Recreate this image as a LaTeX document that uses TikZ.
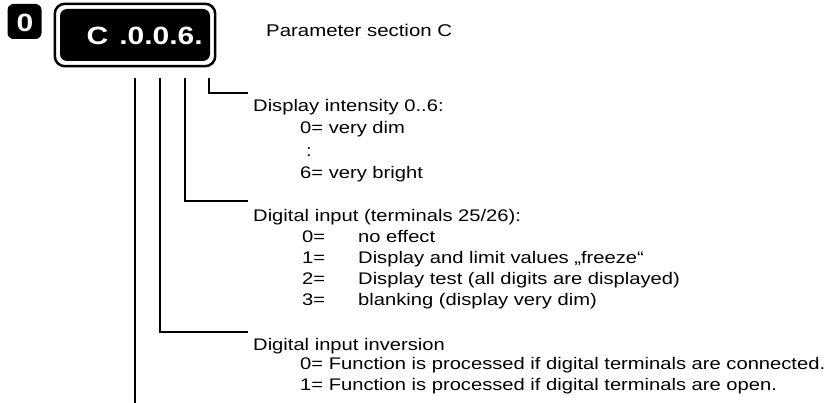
\documentclass[tikz,border=0pt]{standalone}
\usepackage{fontspec}
\setmainfont{Liberation Sans}[FakeStretch=1.2]
\usetikzlibrary{calc}

\begin{document}
\begin{tikzpicture}[x=1pt,y=-1pt,
    txt/.style={anchor=base west,inner sep=0pt,font=\fontsize{16.8}{20}\selectfont},
    lead/.style={line width=1.5pt},
    digit/.style={white,inner sep=0pt,font=\fontsize{25}{25}\bfseries\selectfont}]
    \useasboundingbox (0,0) rectangle (830,403);
    % section number and display
    \node[fill=black,rounded corners=6pt,minimum width=34pt,minimum height=35pt,inner sep=0pt] (secbox) at (24.5,21.5) {};
    \node[digit,anchor=center] (secnum) at (25,23) {0};
    \node[fill=black,rounded corners=7pt,minimum width=150pt,minimum height=52pt,inner sep=0pt] (disp) at (135,35) {};
    \draw[line width=2.5pt,rounded corners=10pt] ($(disp.south west)+(-5,5)$) rectangle ($(disp.north east)+(5,-5)$);
    \node[digit,anchor=base west] (dispval) at (86.5,45) {C\hspace{11pt}.0.0.6.};
    \node[txt,font=\fontsize{17}{20}\selectfont] (title) at (266,37) {Parameter section C};
    % lead lines
    \coordinate (t1) at (135,78);
    \coordinate (t2) at (160,78);
    \coordinate (t3) at (185,78);
    \coordinate (t4) at (209,78);
    \coordinate (h4) at (248,93);
    \coordinate (h3) at (248,201);
    \coordinate (h2) at (248,332);
    \coordinate (b1) at (135,403);
    \draw[lead] (t4) |- (h4);
    \draw[lead] (t3) |- (h3);
    \draw[lead] (t2) |- (h2);
    \draw[lead] (t1) -- (b1);
    % intensity
    \node[txt] (inten) at (253,112) {Display intensity 0..6:};
    \node[txt] (inten0) at (300,134) {0= very dim};
    \node[txt] (intendots) at (306,157) {:};
    \node[txt] (inten6) at (300,179) {6= very bright};
    % digital input
    \node[txt] (dig) at (253,222) {Digital input (terminals 25/26):};
    \foreach \k/\y/\t in {0/243/no effect,
                          1/264/Display and limit values „freeze“,
                          2/285/Display test (all digits are displayed),
                          3/306/blanking (display very dim)} {
        \node[txt] (digkey\k) at (302,\y) {\k=};
        \node[txt] (dig\k) at (358,\y) {\t};
    }
    % inversion
    \node[txt] (inv) at (253,350) {Digital input inversion};
    \node[txt] (inv0) at (300,370) {0= Function is processed if digital terminals are connected.};
    \node[txt] (inv1) at (300,390) {1= Function is processed if digital terminals are open.};
\end{tikzpicture}
\end{document}
